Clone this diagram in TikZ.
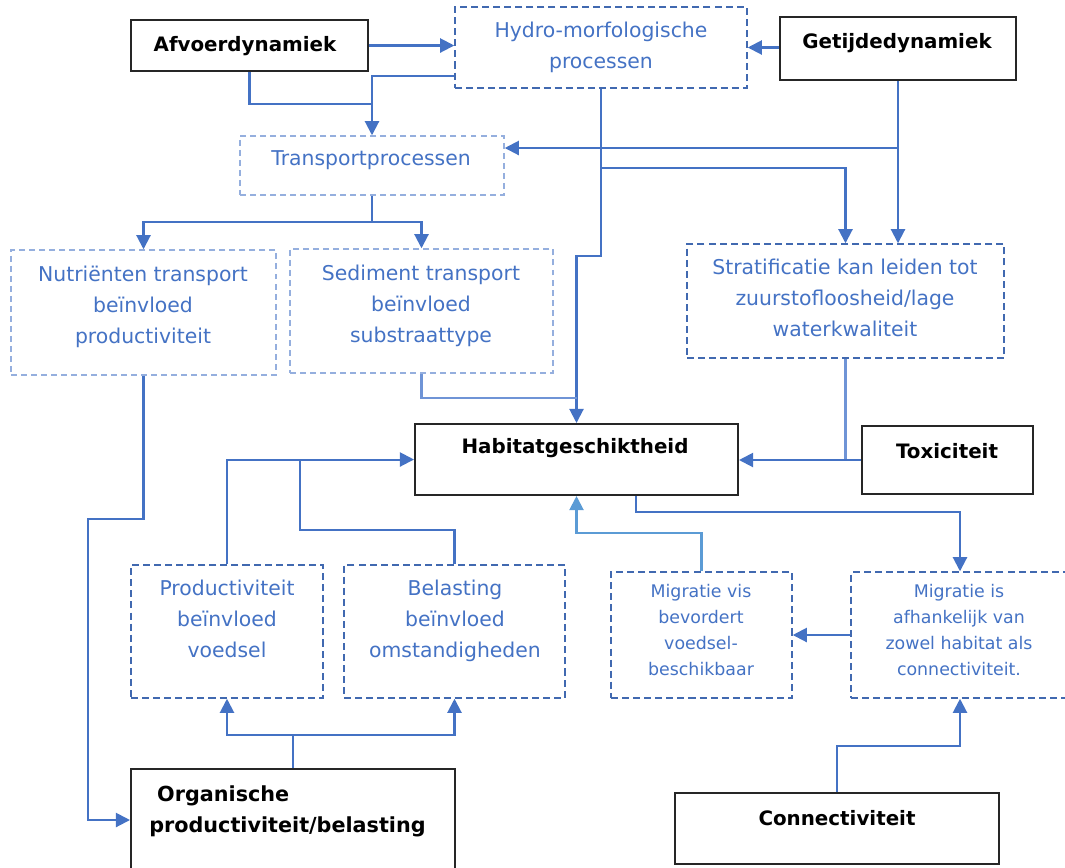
\documentclass[tikz,border=0pt]{standalone}
\usepackage{fontspec}
\setmainfont{DejaVu Sans}
\usetikzlibrary{arrows.meta,fit}

\definecolor{linkblue}{HTML}{4472C4}
\definecolor{linklight}{HTML}{5B9BD5}
\definecolor{stubblue}{HTML}{6F94D6}
\definecolor{boxdark}{HTML}{4169B0}
\definecolor{boxlight}{HTML}{95AFDE}
\definecolor{txtblue}{HTML}{4472C4}
\definecolor{edge}{HTML}{262626}

\tikzset{
  solidbox/.style={draw=edge, line width=1.15pt, inner sep=0pt},
  darkbox/.style={draw=boxdark, line width=0.85pt, dash pattern=on 4pt off 2.3pt, inner sep=0pt},
  lightbox/.style={draw=boxlight, line width=0.85pt, dash pattern=on 3.4pt off 2.3pt, inner sep=0pt},
  boldtxt/.style={font=\fontsize{11.3}{17.6}\selectfont\bfseries, inner sep=0pt, align=center},
  bluetxt/.style={font=\fontsize{11.6}{17.6}\selectfont, text=txtblue, inner sep=0pt, align=center},
  smalltxt/.style={font=\fontsize{9.9}{14.7}\selectfont, text=txtblue, inner sep=0pt, align=center},
  link/.style={draw=linkblue, line width=1.15pt},
  stub/.style={draw=stubblue, line width=1.15pt},
  arr/.style={link, -{Triangle[length=8pt,width=8pt]}},
}

\begin{document}
\begin{tikzpicture}[x=0.02cm, y=-0.02cm]
  \useasboundingbox (0,0) rectangle (1065,867);

  % Drivers
  \node [solidbox, fit={(131,20) (368,71)}] (afv) {};
  \node [boldtxt] (afv-t) at (245,46) {Afvoerdynamiek};
  \node [solidbox, fit={(780,17) (1016,80)}] (getij) {};
  \node [boldtxt] (getij-t) at (897,43) {Getijdedynamiek};

  % Processes
  \node [darkbox, fit={(455,7) (747,88)}] (hydro) {};
  \node [bluetxt] (hydro-t) at (601,47.5) {Hydro-morfologische\\processen};
  \node [lightbox, fit={(240,136) (504,195)}] (trans) {};
  \node [bluetxt] (trans-t) at (371,160) {Transportprocessen};
  \node [lightbox, fit={(11,250) (276,375)}] (nutr) {};
  \node [bluetxt] (nutr-t) at (143,307) {Nutriënten transport\\beïnvloed\\productiviteit};
  \node [lightbox, fit={(290,249) (553,373)}] (sed) {};
  \node [bluetxt] (sed-t) at (421,306) {Sediment transport\\beïnvloed\\substraattype};
  \node [darkbox, fit={(687,244) (1004,358)}] (strat) {};
  \node [bluetxt] (strat-t) at (845,298) {Stratificatie kan leiden tot\\zuurstofloosheid/lage\\waterkwaliteit};

  % Habitat
  \node [solidbox, fit={(415,424) (738,495)}] (hab) {};
  \node [boldtxt] (hab-t) at (575,448) {Habitatgeschiktheid};
  \node [solidbox, fit={(862,426) (1033,494)}] (tox) {};
  \node [boldtxt] (tox-t) at (947,451) {Toxiciteit};

  % Food and migration
  \node [darkbox, fit={(131,565) (323,698)}] (prod) {};
  \node [bluetxt] (prod-t) at (227,619) {Productiviteit\\beïnvloed\\voedsel};
  \node [darkbox, fit={(344,565) (565,698)}] (bel) {};
  \node [bluetxt] (bel-t) at (455,621) {Belasting\\beïnvloed\\omstandigheden};
  \node [darkbox, fit={(611,572) (792,698)}] (migvis) {};
  \node [smalltxt] (migvis-t) at (701,630) {Migratie vis\\bevordert\\voedsel-\\beschikbaar};
  \node [darkbox, fit={(851,572) (1069,698)}] (migis) {};
  \node [smalltxt] (migis-t) at (959,630) {Migratie is\\afhankelijk van\\zowel habitat als\\connectiviteit.};

  % Bottom drivers
  \node [solidbox, fit={(131,769) (455,871)}] (org) {};
  \node [boldtxt, align=left, font=\fontsize{11.8}{17.6}\selectfont\bfseries] (org-t) at (287.5,811) {\hspace*{4.5pt}Organische\\productiviteit/belasting};
  \node [solidbox, fit={(675,793) (999,864)}] (conn) {};
  \node [boldtxt] (conn-t) at (837,818) {Connectiviteit};

  % Links at the top
  \draw [arr] (afv.east) -- (afv.east -| hydro.west);
  \draw [arr] (getij.west |- hydro.east) -- (hydro.east);
  \draw [link] (afv.south) |- (372,104);
  \draw [arr] (hydro.west |- 0,76) -| (trans.north);
  \draw [arr] (getij.south) -- (getij.south |- strat.north);
  \draw [arr] (getij.south |- 0,148) -- (trans.east |- 0,148);
  \draw [arr] (hydro.south) -- (hydro.south |- 0,256) -| (hab.north);
  \draw [arr] (hydro.south |- 0,168) -| (strat.north);

  % Transport split
  \draw [link] (trans.south) -- (trans.south |- 0,222);
  \draw [arr] (trans.south |- 0,222) -| (nutr.north);
  \draw [arr] (trans.south |- 0,222) -| (sed.north);
  \draw [arr] (nutr.south) |- (88,519) |- (org.west);
  \draw [stub] (sed.south) |- (hab.north |- 0,398);

  % Into habitat
  \draw [stub] (strat.south) -- (strat.south |- tox.west);
  \draw [arr] (tox.west) -- (tox.west -| hab.east);
  \draw [arr] (prod.north) |- (hab.west);
  \draw [link] (bel.north) |- (300,530) -- (300,0 |- hab.west);
  \draw [link] (org.north) -- (org.north |- 0,735);
  \draw [arr] (org.north |- 0,735) -| (prod.south);
  \draw [arr] (org.north |- 0,735) -| (bel.south);

  % Migration
  \draw [arr] (636,0 |- hab.south) -- (636,512) -| (migis.north);
  \draw [arr, draw=linklight] (migvis.north) |- (hab.south |- 0,533) -- (hab.south);
  \draw [arr] (migis.west) -- (migvis.east);
  \draw [arr] (conn.north) |- (migis.south |- 0,746) -- (migis.south);
\end{tikzpicture}
\end{document}
